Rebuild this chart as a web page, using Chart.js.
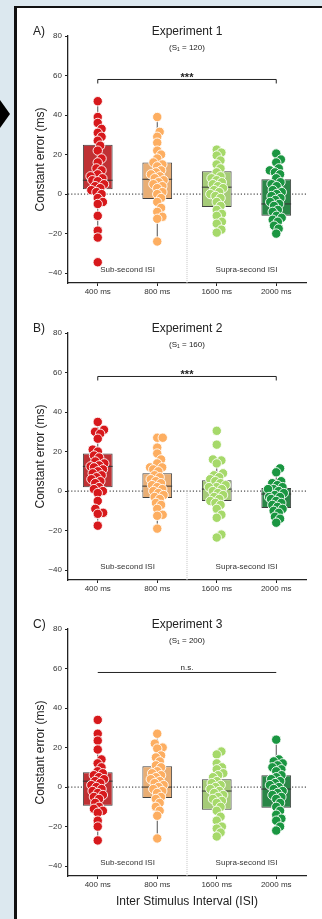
<!DOCTYPE html>
<html>
<head>
<meta charset="utf-8">
<script src="https://cdn.jsdelivr.net/npm/chart.js@4.4.1/dist/chart.umd.min.js"></script>
<style>
  body { margin: 0; width: 322px; height: 919px; overflow: hidden; background: #dce8ef; position: relative; }
  .frame { position: absolute; left: 14px; top: 6px; width: 330px; height: 940px; background: #fff;
           border-left: 3px solid #111; border-top: 2px solid #111; }
  .arrow { position: absolute; left: 0; top: 100px; width: 0; height: 0;
           border-left: 10px solid #000; border-top: 14px solid transparent; border-bottom: 14px solid transparent; }
  canvas { position: absolute; left: 0; }
</style>
</head>
<body>
<div class="frame"></div>
<div class="arrow"></div>
<canvas id="exp1" width="322" height="285" style="top:18px"></canvas>
<canvas id="exp2" width="322" height="285" style="top:315px"></canvas>
<canvas id="exp3" width="322" height="308" style="top:611px"></canvas>
<script>
// Categories and labels
const isiLabels = ['400 ms', '800 ms', '1600 ms', '2000 ms'];
const panelLetters = ['A)', 'B)', 'C)'];
const expTitles = ['Experiment 1', 'Experiment 2', 'Experiment 3'];
const expS1 = [120, 160, 200];
const expSig = ['***', '***', 'n.s.'];
const yTicks = [-40, -20, 0, 20, 40, 60, 80];

const pointColors = ['#d7191c', '#fdae61', '#a6d96a', '#1a9641'];
const boxColors = ['#bf3134', '#e9ae74', '#a5cb78', '#2a8647'];

// Experiment 1 - constant error per participant (ms)
const e1_400 = [47, 39, 36, 33, 31, 29, 27, 24.5, 22, 18, 16, 13, 12, 10, 9, 8, 7, 6.5, 5, 4, 3, 2, 1, 0, -2, -4, -5, -11, -18.5, -22, -34.5];
const e1_800 = [39, 31.5, 29, 26, 22, 20, 18, 16, 15, 14, 12, 11, 10, 9, 8, 7, 6, 5, 4, 3, 1, 0, -2, -4, -7, -9, -11.5, -12.5, -24];
const e1_1600 = [22.5, 21, 19.5, 17, 15, 13, 11, 9, 8, 7, 6, 5, 4, 3, 2, 1, 0, -1, -2, -4, -6, -8, -10, -11, -14, -15, -18, -19.5];
const e1_2000 = [20.5, 17.5, 16, 13, 12, 11, 10, 8, 6, 5, 4, 2, 1, 0, -1, -2, -3, -4, -5, -6, -8, -9, -11, -12, -13, -14, -16, -17.5, -20];
const e1Q1 = [2.5, -2.5, -6.5, -11];
const e1Median = [7, 7.5, 3.5, -5];
const e1Q3 = [25, 16, 11.5, 7.5];
const e1WhiskLo = [-22, -24, -19.5, -20];
const e1WhiskHi = [47, 39, 22.5, 20.5];

// Experiment 2
const e2_400 = [35, 31, 30, 29, 26.5, 21, 20, 18, 17, 15, 14, 13, 12.5, 12, 11, 10, 9, 8, 7, 6, 5, 4, 2, 1, 0, -1, -5, -9, -11, -11.5, -17.5];
const e2_800 = [27, 27, 22, 19, 16, 14, 12, 12, 11, 10, 8, 7, 6, 5, 4, 3, 2, 1, 0, -1, -2, -3, -4, -6, -7, -9, -12, -12.5, -19];
const e2_1600 = [30.5, 23.5, 16, 15.5, 14, 9, 8, 7, 6, 5, 4, 3, 2, 2, 1, 0, -1, -2, -3, -4, -5, -6, -7, -9, -12, -13.5, -22, -23.5];
const e2_2000 = [11.5, 9.5, 5, 4, 3, 2, 1, 1, 0, -1, -2, -3, -3, -4, -5, -6, -7, -8, -9, -10, -11, -13, -14, -16];
const e2Q1 = [2, -3.5, -5, -8.5];
const e2Median = [12.5, 2.5, 1, -1.5];
const e2Q3 = [19, 9, 5.5, 1.5];
const e2WhiskLo = [-17.5, -19, -13.5, -16];
const e2WhiskHi = [35, 27, 16, 11.5];

// Experiment 3
const e3_400 = [34, 27, 23.5, 19, 14, 12, 10, 8, 7, 6, 5, 4, 3, 2, 1, 0, -1, -2, -3, -4, -5, -6, -8, -10, -11, -12, -13, -17, -20, -27];
const e3_800 = [27, 22, 20, 19.5, 16, 15, 13, 11, 10, 8, 7, 6, 5, 4, 3, 2, 1, 0, -1, -2, -3, -5, -6, -8, -10, -12, -14.5, -26];
const e3_1600 = [18, 16.5, 12, 10, 9, 7, 6, 5, 3, 2, 1, 0, -1, -2, -3, -4, -5, -6, -7, -8, -10, -12, -15, -17, -20, -21, -23, -25];
const e3_2000 = [24, 14, 13, 12, 11, 10, 9, 8, 6, 5, 4, 3, 2, 1, 0, -1, -2, -3, -4, -5, -6, -8, -10, -12, -14, -16, -17, -20, -22];
const e3Q1 = [-9.5, -5.5, -11.5, -10.5];
const e3Median = [3, 0, -2, -1];
const e3Q3 = [7.5, 10.5, 4, 6];
const e3WhiskLo = [-27, -26, -25, -22];
const e3WhiskHi = [27, 27, 18, 24];

Chart.defaults.font.family = '"Liberation Sans", Arial, sans-serif';
Chart.defaults.color = '#333';

// simple beeswarm in pixel space
function swarm(pys, d, maxW) {
	const order = pys.map((v, i) => i).sort((a, b) => pys[b] - pys[a]);
	const placed = [];
	const out = [];
	order.forEach(i => {
		const y = pys[i];
		const near = placed.filter(p => Math.abs(p.y - y) < d);
		const cands = [0];
		near.forEach(p => {
			const dx = Math.sqrt(d * d - (p.y - y) * (p.y - y));
			cands.push(p.x + dx, p.x - dx);
		});
		cands.sort((a, b) => Math.abs(a) - Math.abs(b));
		let x = cands.find(c => Math.abs(c) <= maxW && near.every(p => (p.x - c) ** 2 + (p.y - y) ** 2 >= d * d - 0.01));
		if (x === undefined) x = (placed.length % 2 ? 1 : -1) * maxW * 0.8;
		placed.push({ x, y });
		out[i] = x;
	});
	return out;
}

function line(ctx, x1, y1, x2, y2) {
	ctx.beginPath();
	ctx.moveTo(x1, y1);
	ctx.lineTo(x2, y2);
	ctx.stroke();
}

function decoPlugin(p) {
	return {
		id: 'deco',
		beforeDatasetsDraw(chart) {
			const { ctx, chartArea: a, scales: { x, y } } = chart;
			const y0 = y.getPixelForValue(0);
			ctx.save();
			// reference line at 0
			ctx.strokeStyle = '#222';
			ctx.lineWidth = 1;
			ctx.setLineDash([1.2, 2]);
			line(ctx, a.left, y0, a.right, y0);
			// sub / supra divider
			const xd = (x.getPixelForValue(1) + x.getPixelForValue(2)) / 2;
			ctx.strokeStyle = '#c4c4c4';
			ctx.setLineDash([1, 1]);
			line(ctx, xd, y0, xd, a.bottom);
			// whiskers
			ctx.setLineDash([]);
			ctx.strokeStyle = '#505050';
			p.q1.forEach((q, i) => {
				const xc = x.getPixelForValue(i);
				line(ctx, xc, y.getPixelForValue(p.lo[i]), xc, y.getPixelForValue(q));
				line(ctx, xc, y.getPixelForValue(p.q3[i]), xc, y.getPixelForValue(p.hi[i]));
			});
			ctx.restore();
		},
		afterDatasetDraw(chart, args) {
			if (args.meta.type !== 'bar') return;
			const { ctx, scales: { y } } = chart;
			ctx.save();
			ctx.strokeStyle = '#333';
			ctx.lineWidth = 1;
			args.meta.data.forEach((bar, i) => {
				const ym = y.getPixelForValue(p.med[i]);
				line(ctx, bar.x - bar.width / 2, ym, bar.x + bar.width / 2, ym);
			});
			ctx.restore();
		},
		afterDraw(chart) {
			const { ctx, chartArea: a, scales: { x, y } } = chart;
			const cx = (a.left + a.right) / 2;
			ctx.save();
			ctx.fillStyle = '#222';
			ctx.textBaseline = 'middle';
			ctx.font = '12px "Liberation Sans", Arial, sans-serif';
			ctx.textAlign = 'left';
			ctx.fillText(p.letter, 33, a.top - 4);
			ctx.textAlign = 'center';
			ctx.fillText(p.title, cx, a.top - 4);
			ctx.font = '8px "Liberation Sans", Arial, sans-serif';
			ctx.fillText('(S\u2081 = ' + p.s1 + ')', cx, a.top + 12);
			// significance bracket
			const yb = y.getPixelForValue(58);
			const xa = x.getPixelForValue(0), xb = x.getPixelForValue(3);
			ctx.strokeStyle = '#222';
			ctx.lineWidth = 1;
			line(ctx, xa, yb, xb, yb);
			ctx.textBaseline = 'alphabetic';
			if (p.sig === 'n.s.') {
				ctx.font = '8px "Liberation Sans", Arial, sans-serif';
				ctx.fillText(p.sig, cx, yb - 2);
			} else {
				line(ctx, xa, yb, xa, yb + 4);
				line(ctx, xb, yb, xb, yb + 4);
				ctx.font = 'bold 11px "Liberation Sans", Arial, sans-serif';
				ctx.fillText(p.sig, cx, yb + 2);
			}
			// region labels
			ctx.font = '8px "Liberation Sans", Arial, sans-serif';
			ctx.fillStyle = '#333';
			ctx.textBaseline = 'middle';
			const yl = y.getPixelForValue(-38.5);
			ctx.fillText('Sub-second ISI', (x.getPixelForValue(0) + x.getPixelForValue(1)) / 2, yl);
			ctx.fillText('Supra-second ISI', (x.getPixelForValue(2) + x.getPixelForValue(3)) / 2, yl);
			ctx.restore();
		},
	};
}

function makePanel(id, p) {
	const ctx = document.getElementById(id);
	const chart = new Chart(ctx, {
		type: 'bar',
		data: {
			labels: isiLabels,
			datasets: [
				...p.groups.map((vals, i) => ({
					type: 'scatter',
					xAxisID: 'xs',
					data: vals.map(v => ({ x: i, y: v })),
					backgroundColor: pointColors[i],
					borderColor: '#fff',
					borderWidth: 0.9,
					pointRadius: 4.7,
				})),
				{
					type: 'bar',
					data: p.q1.map((q, i) => [q, p.q3[i]]),
					backgroundColor: boxColors,
					borderColor: '#404040',
					borderWidth: 1,
					borderSkipped: false,
					grouped: false,
					barPercentage: 0.5,
					categoryPercentage: 1,
				},
			],
		},
		options: {
			responsive: false,
			animation: false,
			layout: { padding: { top: 18, right: 16, left: 0, bottom: 0 } },
			plugins: { legend: { display: false }, tooltip: { enabled: false } },
			scales: {
				x: {
					type: 'category',
					offset: true,
					grid: { drawOnChartArea: false, offset: false, tickLength: 3, color: '#222' },
					border: { color: '#222', width: 1.3 },
					ticks: { font: { size: 8 }, color: '#333', padding: 1, maxRotation: 0 },
					title: {
						display: p.xTitle,
						text: 'Inter Stimulus Interval (ISI)',
						font: { size: 12 },
						color: '#222',
						padding: { top: 0, bottom: 10 },
					},
					afterFit: s => { s.height = p.xTitle ? 43 : 20; },
				},
				xs: { type: 'linear', display: false, offset: false, min: -0.5, max: 3.5 },
				y: {
					min: -45,
					max: 80,
					afterBuildTicks: s => { s.ticks = yTicks.map(v => ({ value: v })); },
					grid: { drawOnChartArea: false, tickLength: 3, color: '#222' },
					border: { color: '#222', width: 1.3 },
					ticks: {
						font: { size: 8 },
						color: '#333',
						padding: 3,
						callback: v => String(v).replace('-', '\u2212'),
					},
					title: {
						display: true,
						text: 'Constant error (ms)',
						font: { size: 12 },
						color: '#222',
						padding: { top: 33, bottom: 0 },
					},
					afterFit: s => { s.width = 68; },
				},
			},
		},
		plugins: [decoPlugin(p)],
	});

	// spread points into a swarm using the chart's own scales
	const xs = chart.scales.xs, ys = chart.scales.y;
	p.groups.forEach((vals, i) => {
		const offs = swarm(vals.map(v => ys.getPixelForValue(v)), 5.5, 9);
		chart.data.datasets[i].data = vals.map((v, k) => ({
			x: xs.getValueForPixel(xs.getPixelForValue(i) + offs[k]),
			y: v,
		}));
	});
	chart.update('none');
}

// Experiment 1
makePanel('exp1', {
	letter: panelLetters[0], title: expTitles[0], s1: expS1[0], sig: expSig[0], xTitle: false,
	groups: [e1_400, e1_800, e1_1600, e1_2000],
	q1: e1Q1, med: e1Median, q3: e1Q3, lo: e1WhiskLo, hi: e1WhiskHi,
});

// Experiment 2
makePanel('exp2', {
	letter: panelLetters[1], title: expTitles[1], s1: expS1[1], sig: expSig[1], xTitle: false,
	groups: [e2_400, e2_800, e2_1600, e2_2000],
	q1: e2Q1, med: e2Median, q3: e2Q3, lo: e2WhiskLo, hi: e2WhiskHi,
});

// Experiment 3
makePanel('exp3', {
	letter: panelLetters[2], title: expTitles[2], s1: expS1[2], sig: expSig[2], xTitle: true,
	groups: [e3_400, e3_800, e3_1600, e3_2000],
	q1: e3Q1, med: e3Median, q3: e3Q3, lo: e3WhiskLo, hi: e3WhiskHi,
});
</script>
</body>
</html>
